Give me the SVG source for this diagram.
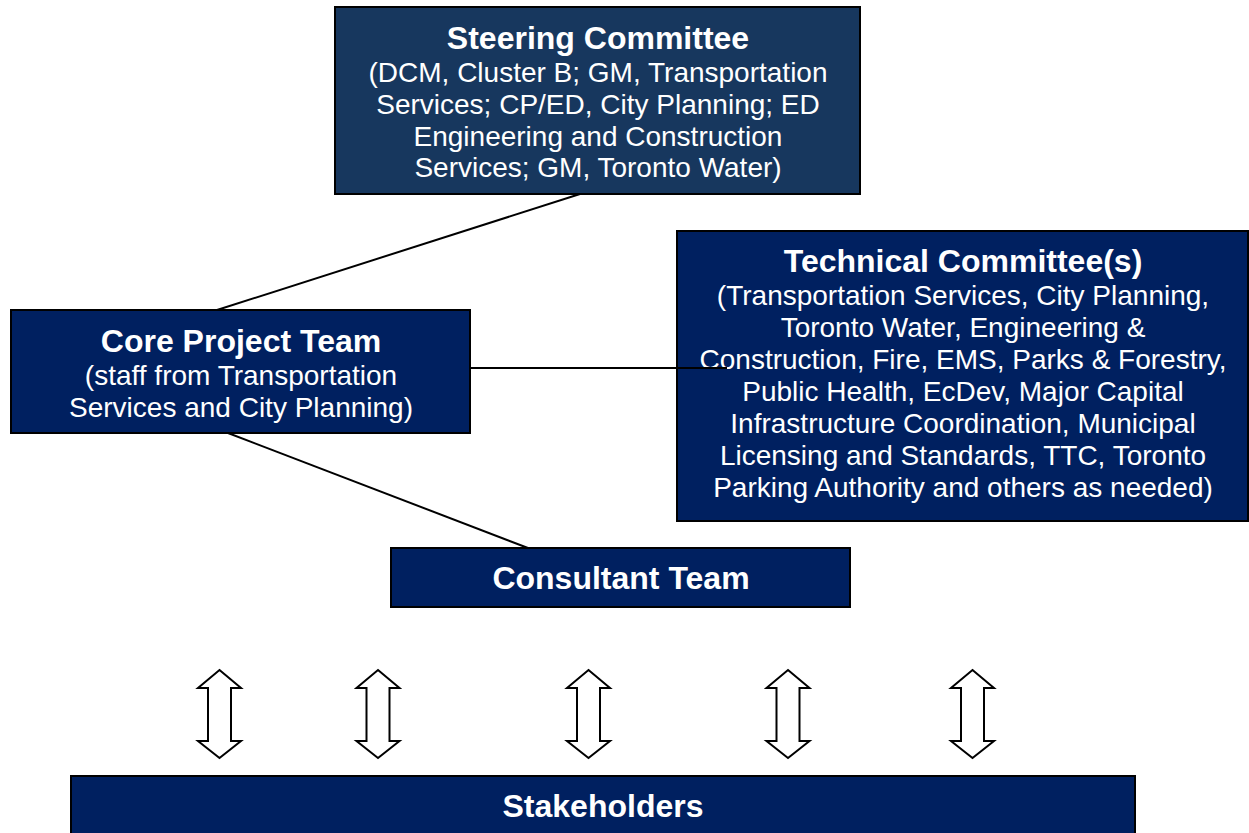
<svg xmlns="http://www.w3.org/2000/svg" xmlns:xlink="http://www.w3.org/1999/xlink" width="1249" height="833" viewBox="0 0 1249 833">
  <style>
    .box { fill: #002060; stroke: #000000; stroke-width: 2; }
    .box.steer { fill: #17375E; }
    .title { font-family: "Liberation Sans", Arial, sans-serif; font-weight: bold; font-size: 32px; fill: #ffffff; text-anchor: middle; }
    .body { font-family: "Liberation Sans", Arial, sans-serif; font-size: 28px; fill: #ffffff; text-anchor: middle; }
    .link { stroke: #000000; stroke-width: 2; fill: none; }
    .twoway { fill: #ffffff; stroke: #000000; stroke-width: 2; stroke-linejoin: miter; }
  </style>
  <defs>
    <!-- hollow double-headed block arrow, centred on x = 0 -->
    <path id="twoway" class="twoway" d="M0,670 L21.5,688 L11.5,688 L11.5,741 L21.5,741 L0,758 L-21.5,741 L-11.5,741 L-11.5,688 L-21.5,688 Z"/>
  </defs>

  <rect width="1249" height="833" fill="#ffffff"/>

  <g id="steering-committee">
    <rect class="box steer" x="335" y="7" width="525" height="187"/>
    <text class="title" x="598" y="49">Steering Committee</text>
    <text class="body" x="598" y="82">(DCM, Cluster B; GM, Transportation</text>
    <text class="body" x="598" y="114">Services; CP/ED, City Planning; ED</text>
    <text class="body" x="598" y="146">Engineering and Construction</text>
    <text class="body" x="598" y="177">Services; GM, Toronto Water)</text>
  </g>

  <g id="core-project-team">
    <rect class="box" x="11" y="310" width="459" height="123"/>
    <text class="title" x="241" y="352">Core Project Team</text>
    <text class="body" x="241" y="385">(staff from Transportation</text>
    <text class="body" x="241" y="417">Services and City Planning)</text>
  </g>

  <g id="technical-committees">
    <rect class="box" x="677" y="231" width="571" height="290"/>
    <text class="title" x="963" y="272">Technical Committee(s)</text>
    <text class="body" x="963" y="305">(Transportation Services, City Planning,</text>
    <text class="body" x="963" y="337">Toronto Water, Engineering &amp;</text>
    <text class="body" x="963" y="369">Construction, Fire, EMS, Parks &amp; Forestry,</text>
    <text class="body" x="963" y="401">Public Health, EcDev, Major Capital</text>
    <text class="body" x="963" y="433">Infrastructure Coordination, Municipal</text>
    <text class="body" x="963" y="465">Licensing and Standards, TTC, Toronto</text>
    <text class="body" x="963" y="497">Parking Authority and others as needed)</text>
  </g>

  <g id="consultant-team">
    <rect class="box" x="391" y="548" width="459" height="59"/>
    <text class="title" x="621" y="589">Consultant Team</text>
  </g>

  <g id="stakeholders">
    <rect class="box" x="71" y="776" width="1064" height="70"/>
    <text class="title" x="603" y="817">Stakeholders</text>
  </g>

  <g id="connectors">
    <line class="link" x1="580" y1="194" x2="217" y2="310"/>
    <line class="link" x1="470" y1="368" x2="727" y2="368"/>
    <line class="link" x1="228" y1="433" x2="528" y2="548"/>
    <use xlink:href="#twoway" x="219.5"/>
    <use xlink:href="#twoway" x="378"/>
    <use xlink:href="#twoway" x="588.5"/>
    <use xlink:href="#twoway" x="788"/>
    <use xlink:href="#twoway" x="972.5"/>
  </g>
</svg>
